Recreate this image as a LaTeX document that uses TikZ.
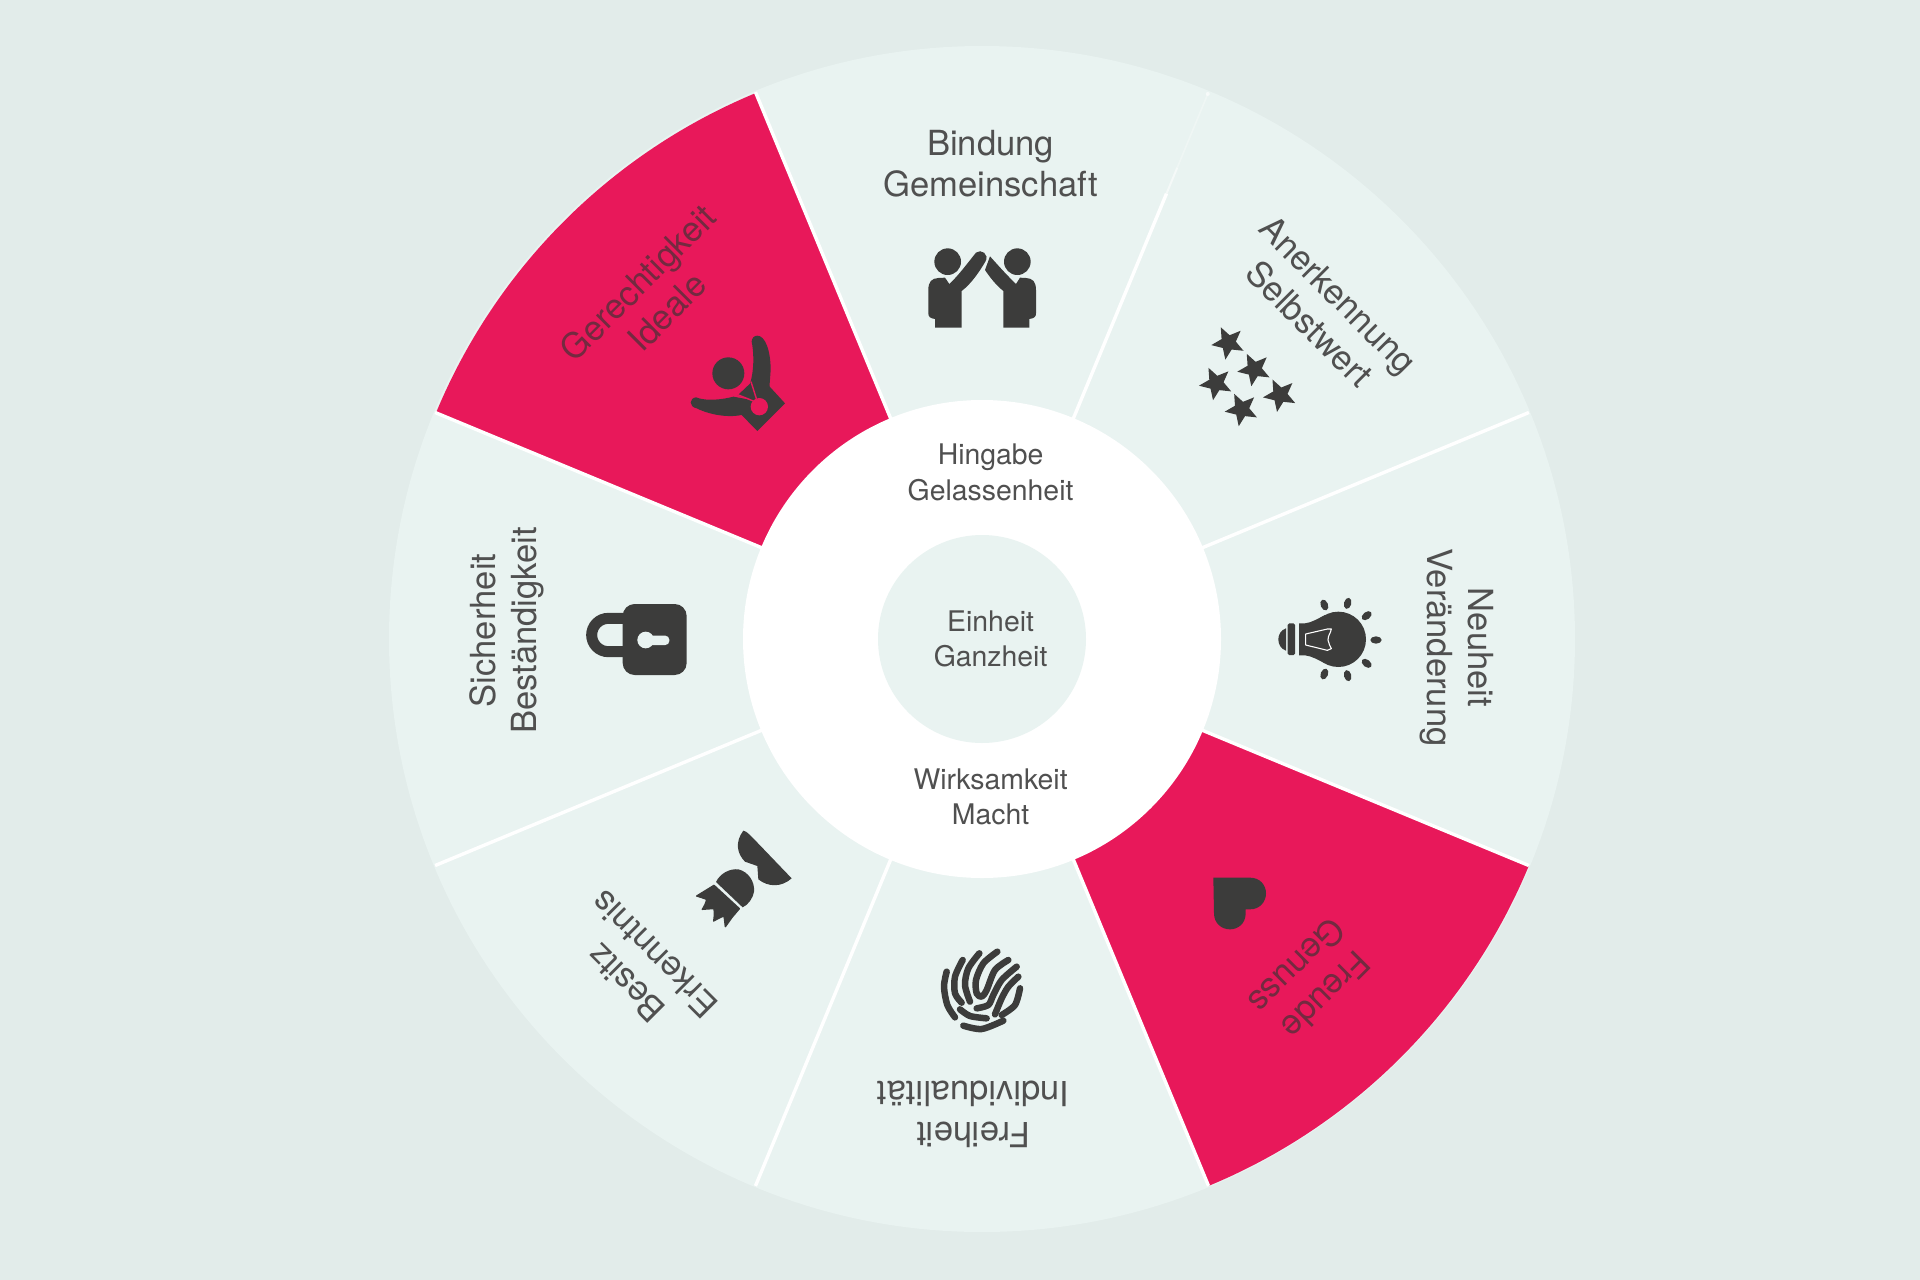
\documentclass[tikz,border=0pt]{standalone}
\usepackage{fontspec}
\setmainfont{TeX Gyre Heros}
\definecolor{pagebg}{HTML}{E2ECEA}
\definecolor{wedge}{HTML}{E9F3F1}
\definecolor{hot}{HTML}{E8185A}
\definecolor{ink}{HTML}{3C3C3B}
\definecolor{txt}{HTML}{505050}
\definecolor{txthot}{HTML}{732A40}
\tikzset{
  biglabel/.style={inner sep=0pt,align=center,text=txt,transform shape,font=\fontsize{34.6}{41}\selectfont},
  smalllabel/.style={inner sep=0pt,align=center,text=txt,font=\fontsize{28.4}{35.5}\selectfont},
  divider/.style={white,line width=3.4pt},
  icon/.style={fill=ink,draw=none},
  finger/.style={ink,line width=6.5pt,line cap=round,line join=round}
}
\newcommand{\wedgelabel}[4][]{%
  \begin{scope}[rotate=#3]\node[biglabel,#1] (#2) at (8.6,475) {#4};\end{scope}}
\begin{document}
\begin{tikzpicture}[x=1pt,y=-1pt]
\fill[pagebg] (0,0) rectangle (1920,1280);
\useasboundingbox (0,0) rectangle (1920,1280);
% wheel
\begin{scope}[shift={(982,639)},y=1pt]
  \fill[wedge] (0,0) circle[radius=593];
  \fill[hot] (112.5:239) -- (112.5:591) arc[start angle=112.5,end angle=157.5,radius=591] -- (157.5:239) -- cycle;
  \fill[hot] (-67.5:239) -- (-67.5:592) arc[start angle=-67.5,end angle=-22.5,radius=592] -- (-22.5:239) -- cycle;
  \foreach \a in {22.5,112.5,157.5,202.5,247.5,292.5,337.5}
    \draw[divider] (\a:230) -- (\a:592);
  \draw[divider] (67.5:230) -- (67.5:482);
  \draw[white,opacity=.55,line width=2pt] (67.5:482) -- (67.5:510);
  \draw[white,opacity=.28,line width=1.6pt] (67.5:510) -- (67.5:590);
  \fill[white,opacity=.6] (67.5:590) circle[radius=2];
  \fill[white] (0,0) circle[radius=239];
  \fill[wedge] (0,0) circle[radius=104];
  \wedgelabel{lbind}{0}{Bindung\\Gemeinschaft}
  \wedgelabel{laner}{-45}{Anerkennung\\Selbstwert}
  \wedgelabel{lneu}{-90}{Neuheit\\Veränderung}
  \wedgelabel[text=txthot]{lfreu}{-135}{Freude\\Genuss}
  \wedgelabel{lfrei}{180}{Freiheit\\Individualität}
  \wedgelabel{lbes}{135}{Besitz\\Erkenntnis}
  \wedgelabel{lsich}{90}{Sicherheit\\Beständigkeit}
  \wedgelabel[text=txthot]{lger}{45}{Gerechtigkeit\\Ideale}
  \node[smalllabel] (lhin) at (8.6,166.5) {Hingabe\\Gelassenheit};
  \node[smalllabel] (lein) at (8.6,0) {Einheit\\Ganzheit};
  \node[smalllabel] (lwir) at (8.6,-158) {Wirksamkeit\\Macht};
\end{scope}
% Bindung icon
\begin{scope}[shift={(910,235)},scale=0.33333]
  \fill[icon] (113,80) circle[radius=40];
  \fill[icon] (322,80) circle[radius=40];
  \fill[icon] (55,165) .. controls (55,140) and (65,130) .. (85,129) -- (105,128) -- (118,147) .. controls (145,122) and (172,85) .. (198,53)
     .. controls (212,40) and (240,58) .. (226,80) .. controls (208,110) and (185,145) .. (155,168) -- (155,278) -- (75,278) -- (75,252) .. controls (60,250) and (55,245) .. (55,235) -- cycle;
  \fill[icon] (378,165) .. controls (378,140) and (368,130) .. (348,129) -- (330,128) -- (318,147) .. controls (292,122) and (265,92) .. (240,64)
     -- (225,105) .. controls (242,130) and (258,150) .. (280,168) -- (280,278) -- (358,278) -- (358,252) .. controls (373,250) and (378,245) .. (378,235) -- cycle;
\end{scope}
% Stars
\foreach \sx/\sy in {1228.3/342.7,1254.3/369.3,1216/383.3,1280/395,1241.7/409.3}
  \fill[icon,shift={(\sx,\sy)},y=1pt,rotate=26] (90:17.2) -- (126:7.6) -- (162:17.2) -- (198:7.6) -- (234:17.2) -- (270:7.6) -- (306:17.2) -- (342:7.6) -- (18:17.2) -- (54:7.6) -- cycle;
% Bulb
\begin{scope}[shift={(1250,580)},scale=0.33333]
  \fill[icon] (265,178) circle[radius=83];
  \fill[icon] (147,130) -- (165,130) .. controls (185,128) and (205,115) .. (225,105) -- (225,250) .. controls (205,240) and (185,228) .. (165,226) -- (147,226) -- cycle;
  \fill[icon,rounded corners=1.5pt] (113,130) rectangle (135,225);
  \fill[icon] (108,145) .. controls (92,150) and (85,165) .. (85,178) .. controls (85,192) and (92,207) .. (108,212) -- cycle;
  \draw[white,line width=1.1pt,line join=round] (167,162) -- (232,147) -- (244,147) .. controls (242,160) and (234,165) .. (234,180) .. controls (234,190) and (242,198) .. (244,206) -- (232,211) -- (167,195) -- cycle;
  \foreach \rx/\ry/\ra in {223/75/112,293/70/75,350/107/38,378/180/0,350/250/-38,293/287/-75,223/282/-112}
    \fill[icon,rotate around={\ra:(\rx,\ry)}] (\rx,\ry) ellipse[x radius=17,y radius=11];
\end{scope}
% Heart
\begin{scope}[shift={(1180,850)},scale=0.33333]
  \fill[icon] (100,83) -- (210,83) .. controls (240,83) and (258,105) .. (258,130) .. controls (258,155) and (240,178) .. (210,178) -- (197,178) -- (197,190)
    .. controls (197,220) and (175,238) .. (150,238) .. controls (125,238) and (102,220) .. (102,190) -- cycle;
\end{scope}
% Fingerprint
\begin{scope}[shift={(920,930)},scale=0.33333,finger]
  \draw plot[smooth] coordinates {(80,125) (72,170) (82,225) (105,262)};
  \draw plot[smooth] coordinates {(128,90) (105,140) (105,190) (125,218)};
  \draw plot[smooth] coordinates {(178,70) (145,115) (135,165) (150,215)};
  \draw plot[smooth] coordinates {(232,65) (190,100) (168,150) (170,190) (185,200) (200,180) (225,120) (265,90)};
  \draw plot[smooth] coordinates {(290,110) (245,150) (220,195) (205,225) (170,235)};
  \draw plot[smooth] coordinates {(295,140) (265,170) (245,205) (225,253)};
  \draw plot[smooth] coordinates {(300,175) (285,225) (245,255)};
  \draw plot[smooth] coordinates {(120,238) (150,258) (200,265)};
  \draw plot[smooth] coordinates {(130,287) (185,297) (250,272)};
\end{scope}
% Besitz icon
\begin{scope}[shift={(680,810)},scale=0.33333]
  \fill[icon] (190,62) .. controls (200,62) and (205,70) .. (335,205) .. controls (305,232) and (265,232) .. (235,208) -- (232,168) -- (195,155) .. controls (170,130) and (165,95) .. (190,62) -- cycle;
  \fill[icon] (108,216) .. controls (120,190) and (150,175) .. (175,178) .. controls (205,185) and (225,215) .. (222,245) .. controls (220,262) and (205,285) .. (188,292) -- cycle;
  \filldraw[fill=ink,draw=ink,line width=1.4pt,line join=round] (102,226) -- (178,296) -- (156,322) -- (136,350) .. controls (135,340) and (134,330) .. (132,318) .. controls (120,322) and (110,328) .. (101,333) .. controls (103,322) and (104,310) .. (102,296) .. controls (90,296) and (78,297) .. (67,298) .. controls (72,290) and (78,280) .. (80,268) .. controls (70,264) and (60,261) .. (50,258) -- cycle;
\end{scope}
% Lock
\begin{scope}[shift={(570,590)},scale=0.33333]
  \draw[ink,line width=11pt] (165,85) -- (115,85) .. controls (87,85) and (65,108) .. (65,135) .. controls (65,162) and (87,185) .. (115,185) -- (165,185);
  \fill[icon,rounded corners=12pt] (158,42) rectangle (350,255);
  \fill[wedge] (227,150) circle[radius=25];
  \fill[wedge,rounded corners=4pt] (227,137) rectangle (298,165);
\end{scope}
% Gerechtigkeit icon
\begin{scope}[shift={(670,320)},scale=0.33333]
  \fill[icon] (175,160) circle[radius=48];
  \fill[icon] (345,250) -- (262,333) -- (205,275) -- (240,240) -- (240,190) -- (290,190) -- cycle;
  \fill[icon] (262,47) .. controls (285,47) and (302,90) .. (302,150) -- (298,205) -- (240,192) .. controls (255,140) and (250,90) .. (245,65) .. controls (245,55) and (252,47) .. (262,47) -- cycle;
  \fill[icon] (78,232) .. controls (58,234) and (55,260) .. (80,265) .. controls (120,285) and (180,295) .. (222,283) -- (245,240) -- (190,230) .. controls (160,238) and (110,245) .. (78,232) -- cycle;
  \fill[icon] (203,226) -- (243,188) -- (262,245) -- cycle;
  \fill[hot] (268,260) circle[radius=26];
  \draw[hot,line width=1.4pt] (243,185) -- (262,245);
  \draw[hot,line width=1.4pt] (203,224) -- (250,243);
\end{scope}
\end{tikzpicture}
\end{document}
